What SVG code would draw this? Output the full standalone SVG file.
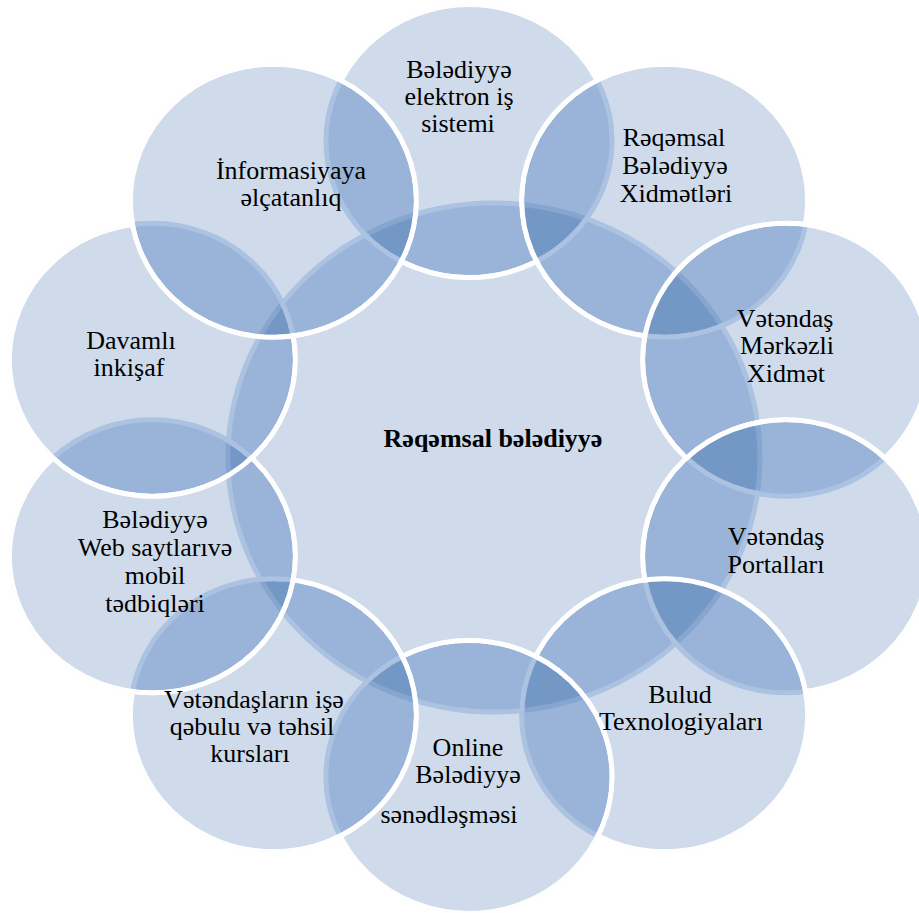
<svg xmlns="http://www.w3.org/2000/svg" width="919" height="913" viewBox="0 0 919 913">
<defs>
<style>
.c{fill:#000;fill-opacity:0.5;stroke:#ccc;stroke-width:5}
.t{font-family:"Liberation Serif","Times New Roman",serif;font-size:26px;fill:#000;text-anchor:middle}
.b{font-weight:bold}
</style>
<filter id="tone" filterUnits="userSpaceOnUse" x="0" y="0" width="919" height="913" color-interpolation-filters="sRGB">
<feComponentTransfer>
<feFuncR type="table" tableValues="0.392 0.424 0.459 0.510 0.608 0.627 0.651 0.710 0.816 0.863 0.910 0.957 0.992 1 1 1 1"/>
<feFuncG type="table" tableValues="0.529 0.565 0.600 0.639 0.710 0.725 0.745 0.788 0.863 0.898 0.929 0.965 0.996 1 1 1 1"/>
<feFuncB type="table" tableValues="0.725 0.753 0.780 0.804 0.851 0.863 0.875 0.898 0.925 0.945 0.965 0.980 0.996 1 1 1 1"/>
</feComponentTransfer>
</filter>
</defs>
<g id="shapes" filter="url(#tone)">
<rect x="0" y="0" width="919" height="913" fill="#fff"/>
<ellipse id="shape-center" class="c" cx="494" cy="457.5" rx="266" ry="254.5"/>
<ellipse id="shape-1" class="c" cx="469" cy="141" rx="143" ry="136.5"/>
<ellipse id="shape-2" class="c" cx="664.7" cy="200.7" rx="143" ry="136.5"/>
<ellipse id="shape-3" class="c" cx="785.7" cy="359.7" rx="143" ry="136.5"/>
<ellipse id="shape-4" class="c" cx="785.7" cy="556.3" rx="143" ry="136.5"/>
<ellipse id="shape-5" class="c" cx="664.7" cy="715.3" rx="143" ry="136.5"/>
<ellipse id="shape-6" class="c" cx="469" cy="777" rx="143" ry="136.5"/>
<ellipse id="shape-7" class="c" cx="273.3" cy="715.3" rx="143" ry="136.5"/>
<ellipse id="shape-8" class="c" cx="152.3" cy="556.3" rx="143" ry="136.5"/>
<ellipse id="shape-9" class="c" cx="152.3" cy="359.7" rx="143" ry="136.5"/>
<ellipse id="shape-10" class="c" cx="273.3" cy="200.7" rx="143" ry="136.5"/>
</g>
<g id="node-center"><text class="t b" x="493" y="447">Rəqəmsal bələdiyyə</text></g>
<g id="node-1"><text class="t" x="459" y="78">Bələdiyyə</text><text class="t" x="459" y="105">elektron iş</text><text class="t" x="458" y="132">sistemi</text></g>
<g id="node-2"><text class="t" x="674" y="146">Rəqəmsal</text><text class="t" x="675" y="174">Bələdiyyə</text><text class="t" x="676" y="202">Xidmətləri</text></g>
<g id="node-3"><text class="t" x="785" y="327">Vətəndaş</text><text class="t" x="787" y="354">Mərkəzli</text><text class="t" x="786" y="382">Xidmət</text></g>
<g id="node-4"><text class="t" x="776" y="545">Vətəndaş</text><text class="t" x="776" y="573">Portalları</text></g>
<g id="node-5"><text class="t" x="680" y="703">Bulud</text><text class="t" x="681" y="730">Texnologiyaları</text></g>
<g id="node-6"><text class="t" x="468" y="756">Online</text><text class="t" x="468" y="783">Bələdiyyə</text><text class="t" x="449" y="823">sənədləşməsi</text></g>
<g id="node-7"><text class="t" x="254" y="708">Vətəndaşların işə</text><text class="t" x="252" y="735">qəbulu və təhsil</text><text class="t" x="250" y="762">kursları</text></g>
<g id="node-8"><text class="t" x="155" y="528">Bələdiyyə</text><text class="t" x="155" y="556">Web saytlarıvə</text><text class="t" x="155" y="584">mobil</text><text class="t" x="155" y="612">tədbiqləri</text></g>
<g id="node-9"><text class="t" x="131" y="349">Davamlı</text><text class="t" x="129" y="376">inkişaf</text></g>
<g id="node-10"><text class="t" x="291" y="179">İnformasiyaya</text><text class="t" x="291" y="206">əlçatanlıq</text></g>
<g id="connectors"/>
</svg>
